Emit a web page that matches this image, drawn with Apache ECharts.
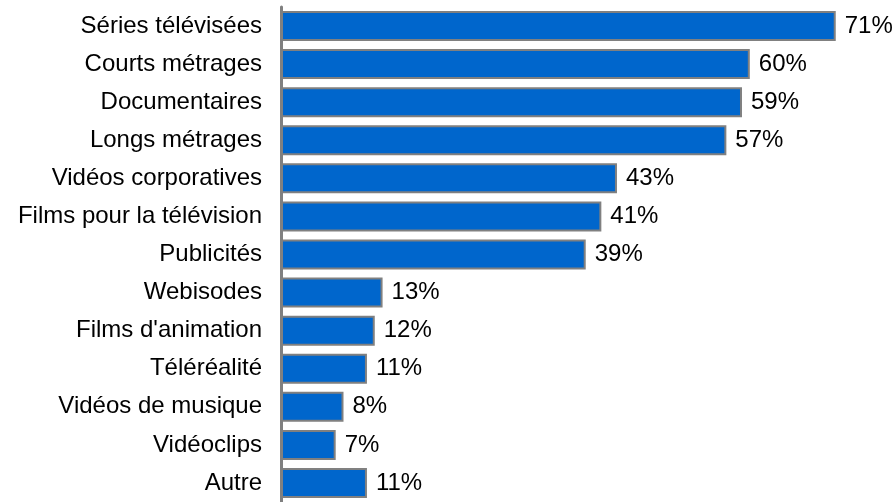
<!DOCTYPE html>
<html>
<head>
<meta charset="utf-8">
<script src="https://cdn.jsdelivr.net/npm/echarts@6/dist/echarts.min.js"></script>
<style>
    html, body { margin: 0; padding: 0; background: #fff; }
    #chart { width: 895px; height: 502px; }
</style>
</head>
<body>
<div id="chart"></div>
<script>
    // top to bottom as shown
    var categories = [
        'Séries télévisées', 'Courts métrages', 'Documentaires', 'Longs métrages',
        'Vidéos corporatives', 'Films pour la télévision', 'Publicités', 'Webisodes',
        "Films d'animation", 'Téléréalité', 'Vidéos de musique', 'Vidéoclips', 'Autre'
    ];
    var percents = [71, 60, 59, 57, 43, 41, 39, 13, 12, 11, 8, 7, 11];

    var chart = echarts.init(document.getElementById('chart'));
    var option = {
        animation: false,
        grid: { left: 281, width: 586, top: 7, height: 496, containLabel: false },
        xAxis: {
            type: 'value',
            min: 0,
            max: 75,
            show: false
        },
        yAxis: {
            type: 'category',
            inverse: true,
            data: categories,
            axisLine: { show: true, lineStyle: { color: '#808080', width: 3 } },
            axisTick: { show: false },
            axisLabel: {
                color: '#000',
                fontFamily: 'Liberation Sans',
                fontSize: 24,
                margin: 19
            }
        },
        series: [{
            type: 'bar',
            data: percents,
            barWidth: 30,
            itemStyle: { color: '#0066CC', borderColor: '#808080', borderWidth: 2 },
            label: {
                show: true,
                position: 'right',
                distance: 9,
                formatter: '{c}%',
                color: '#000',
                fontFamily: 'Liberation Sans',
                fontSize: 24
            }
        }]
    };
    chart.setOption(option);
</script>
</body>
</html>
